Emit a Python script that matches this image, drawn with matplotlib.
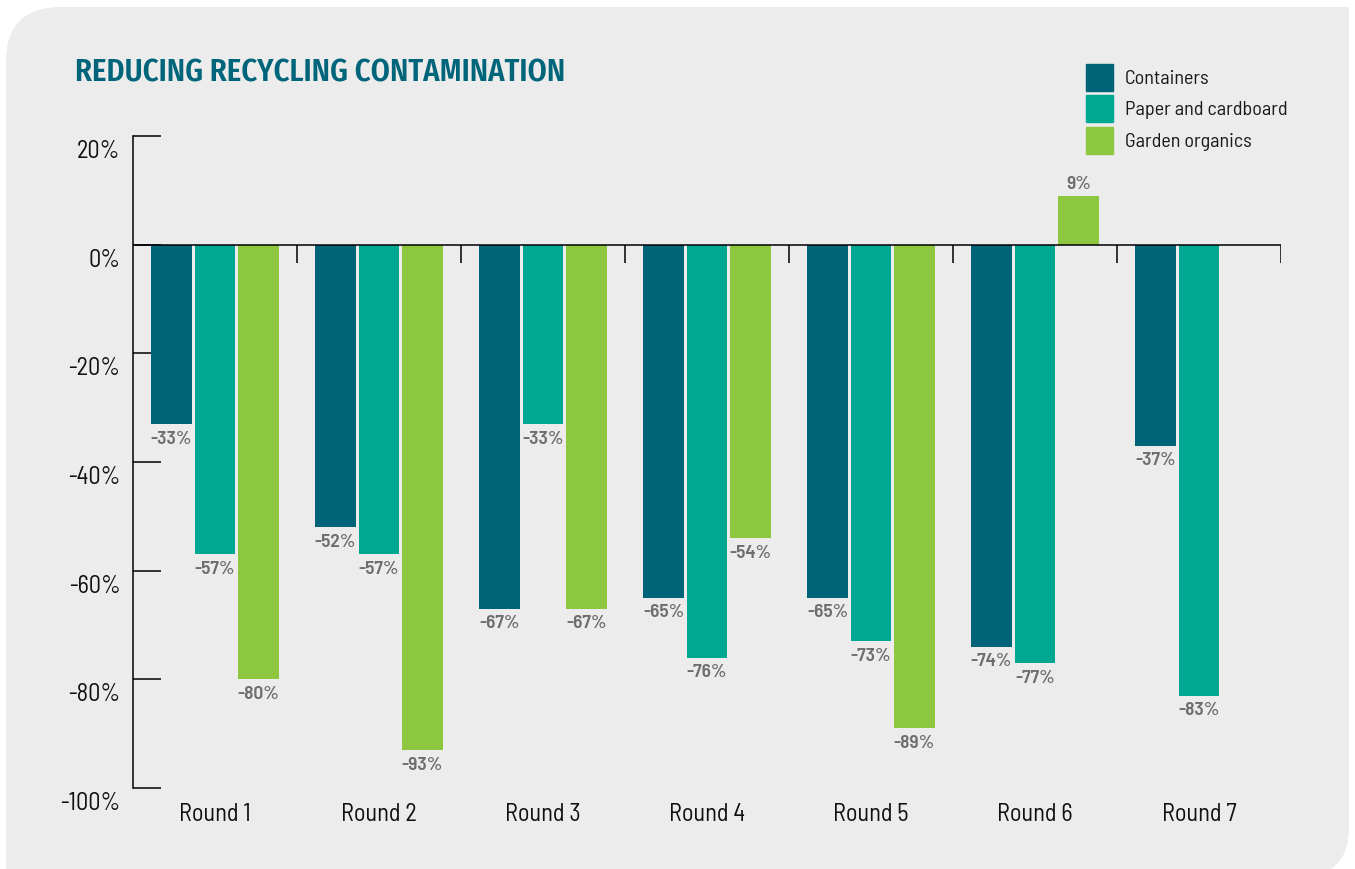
import matplotlib
matplotlib.use("Agg")
import matplotlib.pyplot as plt
from matplotlib.path import Path
from matplotlib.patches import PathPatch
from matplotlib.transforms import ScaledTranslation
import numpy as np

rounds = ["Round 1", "Round 2", "Round 3", "Round 4", "Round 5", "Round 6", "Round 7"]
series_names = ["Containers", "Paper and cardboard", "Garden organics"]
containers = [-33, -52, -67, -65, -65, -74, -37]
paper = [-57, -57, -33, -76, -73, -77, -83]
garden = [-80, -93, -67, -54, -89, 9, None]
colors = ["#006478", "#00A891", "#8DC63F"]
yticks = [20, 0, -20, -40, -60, -80, -100]

plt.rcParams["font.family"] = ["Barlow Semi Condensed", "DejaVu Sans"]

W, H = 1355, 870
fig = plt.figure(figsize=(W / 100, H / 100), dpi=100, facecolor="white")

# grey panel, rounded top-left and bottom-right corners (pixel coords, y up)
x0, x1, y0, y1 = 6, 1349, -8, 862
r1, r2 = 55, 50
verts = [(x0, y0), (x1 - r2, y0), (x1, y0), (x1, y0 + r2), (x1, y1),
         (x0 + r1, y1), (x0, y1), (x0, y1 - r1), (x0, y0)]
codes = [Path.MOVETO, Path.LINETO, Path.CURVE3, Path.CURVE3, Path.LINETO,
         Path.LINETO, Path.CURVE3, Path.CURVE3, Path.CLOSEPOLY]
panel = PathPatch(Path([(x / 100, y / 100) for x, y in verts], codes),
                  transform=fig.dpi_scale_trans, facecolor="#ECECEC",
                  edgecolor="none", zorder=-10)
fig.patches.append(panel)

ax = fig.add_axes([133 / W, 1 - 789 / H, (1281 - 133) / W, (789 - 137) / H])
ax.set_facecolor("none")
ax.set_xlim(-0.5, len(rounds) - 0.5)
ax.set_ylim(-100, 20)

x = np.arange(len(rounds))
step = 0.265
width = 0.245
label_col = "#6D6E70"
for k, vals in enumerate([containers, paper, garden]):
    for i, v in enumerate(vals):
        if v is None:
            continue
        xi = x[i] + (k - 1) * step
        ax.bar(xi, v, width=width, color=colors[k], zorder=2)
        off = 3 if v >= 0 else -4
        ax.annotate(f"{v}%", (xi, v), xytext=(0, off), textcoords="offset points",
                    ha="center", va="bottom" if v >= 0 else "top",
                    fontsize=14, fontweight="semibold", color=label_col)

# zero line and group separator ticks
ax.axhline(0, color="black", lw=1.1, zorder=3)
ax.vlines(np.arange(len(rounds)) + 0.5, -3.3, 0, color="black", lw=1.1, zorder=3)

for s in ["top", "right", "bottom"]:
    ax.spines[s].set_visible(False)
ax.spines["left"].set_linewidth(1.1)

ax.set_yticks(yticks)
ax.set_yticklabels([f"{t}%" for t in yticks], fontsize=17.5, color="#111111")
ax.tick_params(axis="y", direction="in", length=20, width=1.1, pad=9)
for lab in ax.get_yticklabels():
    lab.set_transform(lab.get_transform() + ScaledTranslation(0, -0.12, fig.dpi_scale_trans))

ax.set_xticks(x)
ax.set_xticklabels(rounds, fontsize=17.5, color="#111111")
ax.tick_params(axis="x", length=0, pad=10)

fig.text(75 / W, 1 - 73 / H, "REDUCING RECYCLING CONTAMINATION", fontsize=22,
         fontweight="semibold", color="#00657A", va="center", ha="left",
         family=["Fira Sans Condensed", "DejaVu Sans"])

# legend
for k, name in enumerate(series_names):
    yc = 78 + k * 31.5
    fig.patches.append(plt.Rectangle((1086 / W, 1 - (yc + 13.5) / H), 27 / W, 27 / H,
                                     transform=fig.transFigure, color=colors[k]))
    fig.text(1125 / W, 1 - (yc + 1) / H, name, fontsize=14.5, va="center", ha="left",
             color="#1A1A1A")

fig.savefig("out.png", dpi=100, facecolor="white")
